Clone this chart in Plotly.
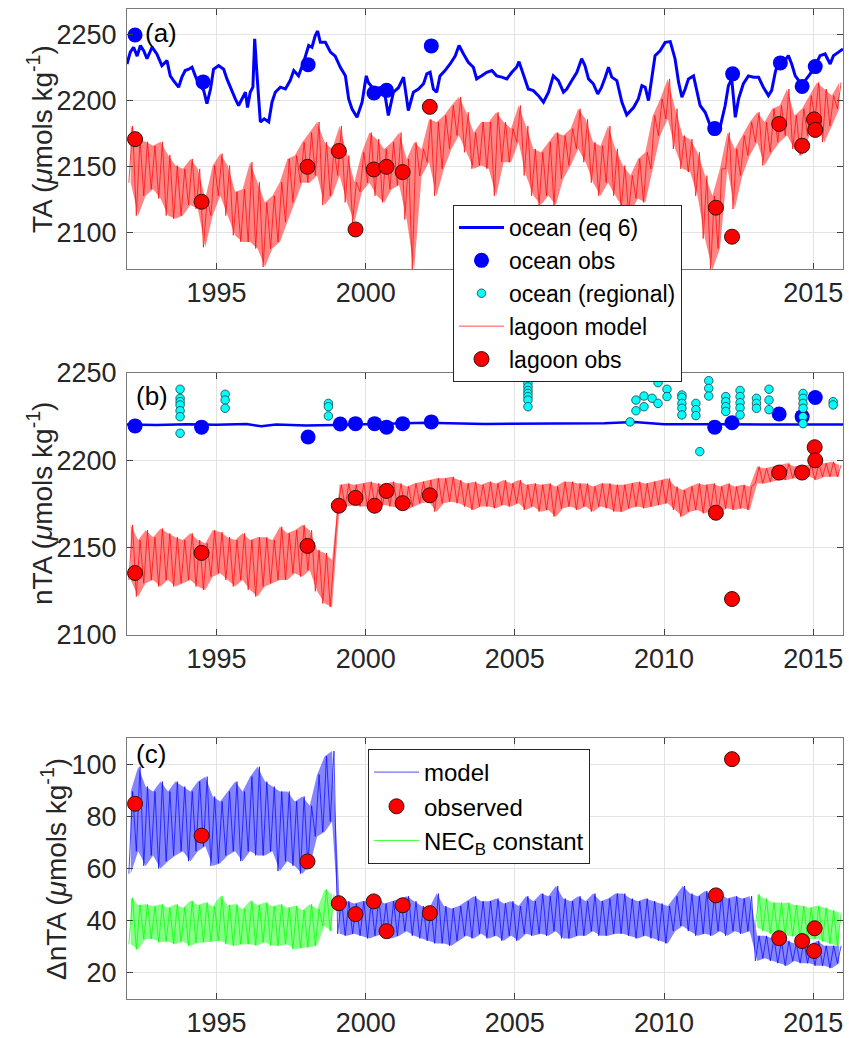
import numpy as np
import plotly.graph_objects as go

# ---------------- DATA ----------------
# Panel (a): ocean TA model (eq 6)
ocean_t = [1992.0, 1992.11, 1992.22, 1992.34, 1992.45, 1992.56, 1992.67, 1992.84, 1993.0, 1993.17,
           1993.34, 1993.45, 1993.56, 1993.73, 1993.84, 1993.95, 1994.07, 1994.18, 1994.29, 1994.4,
           1994.57, 1994.68, 1994.8, 1994.9, 1995.07, 1995.24, 1995.35, 1995.52, 1995.63, 1995.74,
           1995.85, 1995.97, 1996.04, 1996.13, 1996.22, 1996.28, 1996.36, 1996.47, 1996.6, 1996.75,
           1996.86, 1996.97, 1997.14, 1997.31, 1997.47, 1997.59, 1997.75, 1997.92, 1998.09, 1998.2,
           1998.31, 1998.39, 1998.48, 1998.65, 1998.82, 1998.98, 1999.15, 1999.32, 1999.43, 1999.54,
           1999.71, 1999.88, 2000.02, 2000.09, 2000.26, 2000.48, 2000.65, 2000.76, 2000.93, 2001.1,
           2001.27, 2001.43, 2001.6, 2001.77, 2001.94, 2002.05, 2002.16, 2002.27, 2002.38, 2002.49,
           2002.66, 2002.83, 2003.0, 2003.13, 2003.28, 2003.44, 2003.61, 2003.72, 2003.89, 2004.06,
           2004.23, 2004.39, 2004.56, 2004.73, 2004.9, 2005.06, 2005.14, 2005.29, 2005.45, 2005.62,
           2005.79, 2005.96, 2006.13, 2006.29, 2006.46, 2006.63, 2006.74, 2006.91, 2007.08, 2007.24,
           2007.35, 2007.47, 2007.63, 2007.78, 2007.9, 2008.03, 2008.14, 2008.25, 2008.42, 2008.59,
           2008.75, 2008.98, 2009.14, 2009.26, 2009.37, 2009.48, 2009.59, 2009.7, 2009.87, 2010.04,
           2010.21, 2010.37, 2010.49, 2010.6, 2010.71, 2010.82, 2010.99, 2011.1, 2011.21, 2011.38,
           2011.55, 2011.72, 2011.88, 2012.05, 2012.16, 2012.27, 2012.39, 2012.5, 2012.66, 2012.83,
           2013.0, 2013.17, 2013.33, 2013.5, 2013.61, 2013.73, 2013.84, 2014.01, 2014.17, 2014.28,
           2014.4, 2014.56, 2014.73, 2014.9, 2015.07, 2015.23, 2015.4, 2015.57, 2015.68, 2015.85,
           2016.0]
ocean_TA = [2228, 2237, 2240.7, 2234, 2242, 2238, 2232, 2240.7, 2235.6, 2226.8,
            2230.5, 2219, 2215.4, 2210.4, 2218, 2223, 2224, 2225.5, 2219, 2213,
            2208, 2198, 2209, 2224, 2226.8, 2224, 2216.7, 2206.6, 2201.5, 2196.5,
            2201.5, 2206.6, 2195, 2206.6, 2210.4, 2247, 2219, 2184, 2186.4, 2184,
            2199, 2206.6, 2210.4, 2209, 2215.4, 2223, 2219, 2229.3, 2242, 2240.7,
            2249.5, 2253, 2244.4, 2244.4, 2237, 2234, 2225.5, 2219, 2201.5, 2194,
            2187.6, 2199, 2219, 2214, 2209, 2210, 2204, 2189, 2206.6, 2210,
            2218, 2192.7, 2206.6, 2209, 2213, 2220.5, 2221.7, 2209, 2206.6, 2219,
            2223, 2228, 2234, 2242, 2235.6, 2229.3, 2225.5, 2216.7, 2219, 2221.7,
            2223, 2219, 2218, 2216.7, 2221.7, 2225.5, 2229.8, 2219, 2209, 2207.8,
            2204, 2199, 2206.6, 2219, 2215.4, 2206.6, 2209, 2215.4, 2221.7, 2232,
            2226.8, 2216.7, 2213, 2205.3, 2210, 2218, 2225.5, 2218, 2215.4, 2199,
            2189.4, 2195, 2201.5, 2211.6, 2210.4, 2200.2, 2219, 2234.3, 2238, 2244.4,
            2245, 2232, 2214, 2202.8, 2209, 2216.7, 2219, 2208, 2196.5, 2191.4,
            2181.3, 2178.8, 2180, 2196.5, 2211.6, 2216.7, 2187.6, 2201.5, 2213, 2219,
            2218, 2218, 2210.4, 2204, 2208, 2221.7, 2230.5, 2229.3, 2234.3, 2228,
            2219, 2214, 2215.4, 2220.5, 2226.8, 2234.3, 2235.6, 2228, 2234.3, 2237,
            2239.4]

# Quarterly time bins (start of each quarter) for the noisy model series
quarter_start = np.arange(1992.0, 2016.0, 0.25)

# Panel (a): lagoon model TA, per-quarter high / low extremes
lagoon_TA_hi = [2181, 2171, 2169, 2166,  2169, 2159, 2151, 2148.5,  2156, 2148.5, 2126, 2151,
                2160, 2151, 2131, 2133,  2153.5, 2138.4, 2123, 2128,  2138.4, 2156, 2158.6, 2168.7,
                2176, 2184, 2168.7, 2163.6,  2181, 2158.6, 2138.4, 2161,  2176, 2171, 2163.6, 2168.7,
                2176, 2156, 2168.7, 2163.6,  2186, 2184, 2189, 2196.5,  2203, 2191.4, 2176, 2184,
                2184, 2191.4, 2184, 2179,  2196.5, 2181, 2163.6, 2161,  2168.7, 2176, 2173.7, 2179,
                2194, 2186, 2168.7, 2166,  2181, 2163.6, 2151, 2143.4,  2156, 2161, 2189, 2201.5,
                2216.7, 2194, 2173.7, 2171,  2161, 2143.4, 2128, 2148.5,  2176, 2163.6, 2173.7, 2184,
                2191.4, 2184, 2194, 2196.5,  2209, 2189, 2194, 2204,  2214, 2209, 2204, 2214]
lagoon_TA_lo = [2138, 2113, 2128, 2133,  2126, 2113, 2110.6, 2113,  2121, 2118, 2089, 2113,
                2128, 2113, 2098, 2093,  2093, 2088, 2074, 2088,  2093, 2108, 2123, 2138,
                2138, 2143.4, 2121, 2128,  2143.4, 2123, 2108, 2131,  2138, 2128, 2123, 2133,
                2136, 2110, 2072, 2143,  2153.5, 2128, 2148.5, 2163.6,  2173.7, 2161, 2148.5, 2151,
                2148.5, 2128, 2153.5, 2153.5,  2168.7, 2143.4, 2128, 2121,  2128, 2121, 2141, 2151,
                2163.6, 2153.5, 2138, 2128,  2138, 2128, 2118, 2115.6,  2126, 2123, 2148.5, 2173.7,
                2186.4, 2163.6, 2148.5, 2146,  2128, 2095.5, 2072, 2088,  2148.5, 2118, 2143.4, 2158.6,
                2168.7, 2151, 2161, 2168.7,  2173.7, 2163.6, 2158.6, 2173.7,  2186.4, 2168.7, 2181, 2194]

# Panel (a) observations
ocean_obs_t = [1992.27, 1994.55, 1998.07, 2000.28, 2000.7, 2002.2, 2011.7, 2012.3, 2013.9, 2014.63, 2015.07]
ocean_obs_TA = [2250, 2214.4, 2227.5, 2206, 2208, 2241.7, 2179, 2220.5, 2228.8, 2211, 2226]
lagoon_obs_t = [1992.27, 1994.5, 1998.05, 1999.1, 1999.66, 2000.27, 2000.7, 2001.24, 2002.15,
                2011.74, 2012.28, 2013.86, 2014.63, 2015.03, 2015.07]
lagoon_obs_TA = [2171, 2123.5, 2150, 2162, 2102.5, 2148, 2150, 2146, 2195.5,
                 2119, 2097, 2182.5, 2166, 2186, 2178]

# Panel (b): ocean nTA model line
ocean_nTA_t = [1992.0, 1993.0, 1994.0, 1995.0, 1996.0, 1996.5, 1997.0, 1998.0, 1999.0, 2000.0,
               2002.0, 2004.0, 2006.0, 2008.0, 2009.0, 2010.0, 2012.0, 2014.0, 2016.0]
ocean_nTA = [2220.5, 2220.3, 2220.6, 2220.4, 2220.8, 2219.5, 2220.5, 2220.0, 2220.3, 2220.8,
             2221.5, 2220.8, 2221.0, 2221.2, 2222.0, 2220.7, 2220.6, 2220.6, 2220.5]

# Panel (b): lagoon model nTA, per-quarter high / low extremes
lagoon_nTA_hi = [2163, 2154.4, 2160, 2156,  2161, 2158.2, 2156, 2154.4,  2158.2, 2154.4, 2152.5, 2160,
                 2159, 2156, 2154.4, 2158.2,  2154.4, 2156, 2156, 2154.4,  2162, 2158.2, 2160, 2163,
                 2160, 2148.7, 2147, 2143,  2186, 2186.8, 2186, 2186.8,  2187.8, 2186.8, 2186, 2187.8,
                 2186.8, 2185, 2186.8, 2187.8,  2188.7, 2189.7, 2189.7, 2190.6,  2188.7, 2186.8, 2187.8, 2186,
                 2187.8, 2186.8, 2188.7, 2186.8,  2188.7, 2186, 2186.8, 2186,  2186.8, 2185, 2187.8, 2187.8,
                 2186.8, 2186.8, 2185, 2186.8,  2186.8, 2186, 2186, 2186.8,  2187.8, 2186.8, 2187.8, 2188.7,
                 2189.7, 2185, 2183, 2185,  2186.8, 2186, 2186.8, 2185,  2186.8, 2185, 2186, 2185,
                 2196.4, 2195.4, 2196.4, 2197.3,  2198.3, 2196.4, 2197.3, 2197.3,  2198.3, 2198.3, 2199.2, 2197.3]
lagoon_nTA_lo = [2131.5, 2122, 2129.6, 2131.5,  2127.7, 2131.5, 2127.7, 2129.6,  2131.5, 2127.7, 2125.8, 2133.4,
                 2135.3, 2131.5, 2127.7, 2131.5,  2125.8, 2122, 2127.7, 2129.6,  2131.5, 2131.5, 2135.3, 2133.4,
                 2137, 2125, 2118, 2116,  2172.5, 2173.5, 2174.4, 2173.5,  2173.5, 2172.5, 2174.4, 2173.5,
                 2172.5, 2171.6, 2173.5, 2175.4,  2176.3, 2170.6, 2175.4, 2176.3,  2175.4, 2173.5, 2171.6, 2173.5,
                 2173.5, 2172.5, 2174.4, 2173.5,  2175.4, 2171.6, 2173.5, 2170.6,  2171.6, 2167.7, 2172.5, 2173.5,
                 2171.6, 2173.5, 2170.6, 2173.5,  2172.5, 2170.6, 2170.6, 2172.5,  2173.5, 2172.5, 2173.5, 2174.4,
                 2175.4, 2171.6, 2167.7, 2170.6,  2171.6, 2169.6, 2171.6, 2170.6,  2172.5, 2171.6, 2172.5, 2171.6,
                 2186.8, 2186.8, 2187.8, 2188.7,  2188.7, 2189.7, 2188.7, 2190.6,  2188.7, 2190.6, 2190.6, 2190.6]

# Panel (b) observations
ocean_obs_nTA_t = [1992.27, 1994.5, 1998.07, 1999.15, 1999.66, 2000.3, 2000.7, 2001.24, 2002.2,
                   2011.7, 2012.28, 2013.86, 2014.63, 2015.07]
ocean_obs_nTA = [2219.7, 2219, 2213.4, 2220.8, 2221, 2221, 2219, 2221, 2222,
                 2219, 2221.5, 2226.5, 2225, 2236]
lagoon_obs_nTA_t = [1992.27, 1994.5, 1998.05, 1999.1, 1999.66, 2000.3, 2000.7, 2001.24, 2002.15,
                    2011.74, 2012.28, 2013.86, 2014.63, 2015.05, 2015.07]
lagoon_obs_nTA = [2135.5, 2147, 2151, 2174, 2178.5, 2174, 2182.5, 2175.5, 2180,
                  2170, 2120.6, 2193, 2193, 2207.5, 2200]
regional_t = [1993.78] * 7 + [1995.29] * 3 + [1998.75] * 3 + [2005.44] * 7 + \
             [2008.86, 2009.06, 2009.06, 2009.33, 2009.33, 2009.6, 2009.8, 2009.8, 2010.1, 2010.1] + \
             [2010.6] * 5 + [2011.07] * 3 + [2011.2] + [2011.5] * 3 + [2012.07] * 4 + \
             [2012.55] * 5 + [2013.1] * 3 + [2013.52] * 3 + [2014.66] * 6 + [2015.67] * 2
regional_nTA = [2240.7, 2235.5, 2233.6, 2231.7, 2228.4, 2225, 2215.5,
                2237.8, 2234.5, 2229.8,
                2232.6, 2230.7, 2225.4,
                2244, 2242, 2240, 2238.3, 2236.5, 2234.5, 2230.7,
                2222, 2234.5, 2228.4, 2236.8, 2230.7, 2235.5, 2244.5, 2232.6, 2240.7, 2236.5,
                2237.4, 2236, 2232.6, 2229.8, 2226,
                2232.6, 2229, 2225.6,
                2205,
                2245.6, 2241.2, 2236.8,
                2236.5, 2233.6, 2230.7, 2228,
                2240, 2236.5, 2233, 2230, 2226,
                2235.5, 2232.6, 2229.8,
                2240.7, 2234.5, 2229,
                2238.3, 2235.5, 2232.6, 2229.8, 2225, 2221,
                2233.6, 2231.7]

# Panel (c): ΔnTA model = ocean nTA reference - lagoon nTA
ocean_nTA_ref = 2221.0
# NEC_B constant model, per-quarter high / low (None where hidden under the model line)
nec_hi = [48.8, 46, 46.3, 45.5,  46.3, 45, 46.3, 45,  47.6, 46, 47, 45.5,  49.5, 46, 46.3, 44.5,
          47.6, 46, 47, 45.5,  46.3, 45, 45.7, 44,  46.3, 44.5, 52, 50] + [None] * 56 + \
         [50.1, 48.5, 47, 46.9,  46.9, 46, 45.7, 45,  45.7, 45, 44, 43.1]
nec_lo = [31, 29, 33, 33,  31.7, 32, 31, 32,  30.4, 31.5, 31.7, 32,  32.3, 31, 30.4, 31,
          31, 30.5, 31.7, 30.5,  30.4, 31, 29.1, 29.5,  29.8, 30.5, 38, 36] + [None] * 56 + \
         [37.4, 36, 35, 34.2,  34.2, 34, 33, 33,  33, 32, 31, 30.4]

# Panel (c) observations
dnTA_obs_t = [1992.27, 1994.5, 1998.05, 1999.1, 1999.66, 2000.27, 2000.7, 2001.24, 2002.15,
              2011.74, 2012.28, 2013.86, 2014.63, 2015.05, 2015.03]
dnTA_obs = [84.8, 72.6, 62.7, 46.7, 42.5, 47.4, 36, 45.9, 42.9,
            49.7, 101.9, 33.3, 32.2, 37.1, 28.4]

x_ticks = [1995, 2000, 2005, 2010, 2015]
x_labels = ["1995", "2000", "2005", "2010", "2015"]
x_labels_a = ["1995", "2000", "", "", "2015"]   # 2005 and 2010 are hidden behind the legend in (a)
ya_ticks = [2100, 2150, 2200, 2250]
yb_ticks = [2100, 2150, 2200, 2250]
yc_ticks = [20, 40, 60, 80, 100]


# ---------------- helpers ----------------
def zigzag(starts, lo, hi, width=0.25):
    xs, ys = [], []
    for s, l, h in zip(starts, lo, hi):
        xs += [s + width * 0.25, s + width * 0.75]
        ys += [l, h]
    return xs, ys


def runs(starts, lo, hi, width=0.25):
    """Contiguous runs of bins that have values -> (centres, lo, hi) per run."""
    out, cur = [], ([], [], [])
    for s, l, h in zip(starts, lo, hi):
        if l is None or h is None:
            if cur[0]:
                out.append(cur)
            cur = ([], [], [])
            continue
        cur[0].append(s + width / 2)
        cur[1].append(l)
        cur[2].append(h)
    if cur[0]:
        out.append(cur)
    return out


FONT = "Liberation Sans, Arial, Helvetica, sans-serif"
TXT = "#262626"

fig = go.Figure()


def add_band(lo, hi, color_rgba, xa, ya):
    """Light envelope of a noisy model series (between its per-quarter low and high)."""
    for xc, l, h in runs(quarter_start, lo, hi):
        fig.add_trace(go.Scatter(x=xc, y=l, mode="lines", line=dict(width=0), showlegend=False,
                                 hoverinfo="skip", xaxis=xa, yaxis=ya))
        fig.add_trace(go.Scatter(x=xc, y=h, mode="lines", line=dict(width=0), showlegend=False,
                                 fill="tonexty", fillcolor=color_rgba, hoverinfo="skip",
                                 xaxis=xa, yaxis=ya))


BAND_ALPHA = 0.48

# ----- panel (a) -----
fig.add_trace(go.Scatter(x=ocean_t, y=ocean_TA, mode="lines", name="ocean (eq 6)",
                         line=dict(color="#0000ff", width=3), xaxis="x", yaxis="y",
                         legend="legend", legendrank=1))
add_band(lagoon_TA_lo, lagoon_TA_hi, f"rgba(255,0,0,{BAND_ALPHA})", "x", "y")
lx, ly = zigzag(quarter_start, lagoon_TA_lo, lagoon_TA_hi)
fig.add_trace(go.Scatter(x=lx, y=ly, mode="lines", name="lagoon model",
                         line=dict(color="#ff0000", width=0.7), xaxis="x", yaxis="y",
                         legend="legend", legendrank=4))
fig.add_trace(go.Scatter(x=ocean_obs_t, y=ocean_obs_TA, mode="markers", name="ocean obs",
                         marker=dict(color="#0000ff", size=15, line=dict(width=0)),
                         xaxis="x", yaxis="y", legend="legend", legendrank=2))
fig.add_trace(go.Scatter(x=lagoon_obs_t, y=lagoon_obs_TA, mode="markers", name="lagoon obs",
                         marker=dict(color="#ff0000", size=15, line=dict(width=1, color="#331111")),
                         xaxis="x", yaxis="y", legend="legend", legendrank=5))

# ----- panel (b) -----
fig.add_trace(go.Scatter(x=ocean_nTA_t, y=ocean_nTA, mode="lines", showlegend=False,
                         line=dict(color="#0000ff", width=2.5), xaxis="x2", yaxis="y2"))
fig.add_trace(go.Scatter(x=ocean_obs_nTA_t, y=ocean_obs_nTA, mode="markers", showlegend=False,
                         marker=dict(color="#0000ff", size=15, line=dict(width=0)),
                         xaxis="x2", yaxis="y2"))
fig.add_trace(go.Scatter(x=regional_t, y=regional_nTA, mode="markers", name="ocean (regional)",
                         marker=dict(color="#00ffff", size=8.5, line=dict(width=0.8, color="#1d3b3b")),
                         xaxis="x2", yaxis="y2", legend="legend", legendrank=3))
add_band(lagoon_nTA_lo, lagoon_nTA_hi, f"rgba(255,0,0,{BAND_ALPHA})", "x2", "y2")
bx, by = zigzag(quarter_start, lagoon_nTA_lo, lagoon_nTA_hi)
fig.add_trace(go.Scatter(x=bx, y=by, mode="lines", showlegend=False,
                         line=dict(color="#ff0000", width=0.7), xaxis="x2", yaxis="y2"))
fig.add_trace(go.Scatter(x=lagoon_obs_nTA_t, y=lagoon_obs_nTA, mode="markers", showlegend=False,
                         marker=dict(color="#ff0000", size=15, line=dict(width=1, color="#331111")),
                         xaxis="x2", yaxis="y2"))

# ----- panel (c) -----
add_band(nec_lo, nec_hi, f"rgba(0,255,0,{BAND_ALPHA})", "x3", "y3")
gx, gy = zigzag(quarter_start, nec_lo, nec_hi)
fig.add_trace(go.Scatter(x=gx, y=gy, mode="lines", name="NEC<sub>B</sub> constant",
                         line=dict(color="#00ff00", width=0.7), xaxis="x3", yaxis="y3",
                         legend="legend2", legendrank=3, connectgaps=False))
d_lo = [ocean_nTA_ref - v for v in lagoon_nTA_hi]
d_hi = [ocean_nTA_ref - v for v in lagoon_nTA_lo]
add_band(d_lo, d_hi, f"rgba(0,0,255,{BAND_ALPHA})", "x3", "y3")
cx, cy = zigzag(quarter_start, d_lo, d_hi)
fig.add_trace(go.Scatter(x=cx, y=cy, mode="lines", name="model",
                         line=dict(color="#0000ff", width=0.7), xaxis="x3", yaxis="y3",
                         legend="legend2", legendrank=1))
fig.add_trace(go.Scatter(x=dnTA_obs_t, y=dnTA_obs, mode="markers", name="observed",
                         marker=dict(color="#ff0000", size=15, line=dict(width=1, color="#331111")),
                         xaxis="x3", yaxis="y3", legend="legend2", legendrank=2))

# ---------------- layout ----------------
W, H = 849, 1038
ML, MR, MT, MB = 127, 6, 9, 39
PH = H - MT - MB


def ydom(top_px, bot_px):
    return [1 - (bot_px - MT) / PH, 1 - (top_px - MT) / PH]


axis_common = dict(showline=True, linecolor="#7a7a7a", linewidth=1, mirror="ticks",
                   ticks="inside", ticklen=6, tickcolor="#404040", tickwidth=1,
                   showgrid=True, gridcolor="#e3e3e3", gridwidth=1, zeroline=False,
                   automargin=False,
                   tickfont=dict(family=FONT, size=27, color=TXT))

xa = dict(axis_common, range=[1992, 2016], tickvals=x_ticks, ticklabelstandoff=0)
fig.update_layout(
    width=W, height=H, margin=dict(l=ML, r=MR, t=MT, b=MB, autoexpand=False),
    paper_bgcolor="white", plot_bgcolor="white",
    xaxis=dict(xa, domain=[0, 1], anchor="y", ticktext=x_labels_a),
    xaxis2=dict(xa, domain=[0, 1], anchor="y2", ticktext=x_labels),
    xaxis3=dict(xa, domain=[0, 1], anchor="y3", ticktext=x_labels),
    yaxis=dict(axis_common, domain=ydom(9, 269), range=[2072.5, 2269.7], tickvals=ya_ticks,
               anchor="x", ticklabelstandoff=4),
    yaxis2=dict(axis_common, domain=ydom(373, 635), range=[2100, 2250], tickvals=yb_ticks,
                anchor="x2", ticklabelstandoff=4),
    yaxis3=dict(axis_common, domain=ydom(738, 999), range=[10, 110], tickvals=yc_ticks,
                anchor="x3", ticklabelstandoff=4),
    legend=dict(x=(453 - ML) / 716, y=1 - (205 - MT) / PH, xanchor="left", yanchor="top",
                bgcolor="white", bordercolor="#262626", borderwidth=1, traceorder="normal",
                font=dict(family=FONT, size=23, color="black"), itemwidth=45, tracegroupgap=0),
    legend2=dict(x=(368 - ML) / 716, y=1 - (749 - MT) / PH, xanchor="left", yanchor="top",
                 bgcolor="white", bordercolor="#262626", borderwidth=1, traceorder="normal",
                 font=dict(family=FONT, size=24, color="black"), itemwidth=45, tracegroupgap=0),
    showlegend=True,
)

ylab_font = dict(family=FONT, size=28, color=TXT)
mu = "<i>μ</i>"
annotations = [
    dict(text="(a)", x=(143 - ML) / 716, y=1 - (33 - MT) / PH, xanchor="left", yanchor="middle",
         font=dict(family=FONT, size=26, color="black")),
    dict(text="(b)", x=(134 - ML) / 716, y=1 - (396 - MT) / PH, xanchor="left", yanchor="middle",
         font=dict(family=FONT, size=26, color="black")),
    dict(text="(c)", x=(134 - ML) / 716, y=1 - (754 - MT) / PH, xanchor="left", yanchor="middle",
         font=dict(family=FONT, size=26, color="black")),
    dict(text=f"TA ({mu}mols kg<sup>-1</sup>)", x=(40 - ML) / 716, y=1 - (139 - MT) / PH,
         textangle=-90, xanchor="center", yanchor="middle", font=ylab_font),
    dict(text=f"nTA ({mu}mols kg<sup>-1</sup>)", x=(40 - ML) / 716, y=1 - (504 - MT) / PH,
         textangle=-90, xanchor="center", yanchor="middle", font=ylab_font),
    dict(text=f"ΔnTA ({mu}mols kg<sup>-1</sup>)", x=(54 - ML) / 716, y=1 - (869 - MT) / PH,
         textangle=-90, xanchor="center", yanchor="middle", font=ylab_font),
]
for a in annotations:
    a.update(xref="paper", yref="paper", showarrow=False)
fig.update_layout(annotations=annotations)

fig.write_html("out.html", config={"displayModeBar": False},
               post_script="document.body.style.margin='0';document.body.style.overflow='hidden';")
